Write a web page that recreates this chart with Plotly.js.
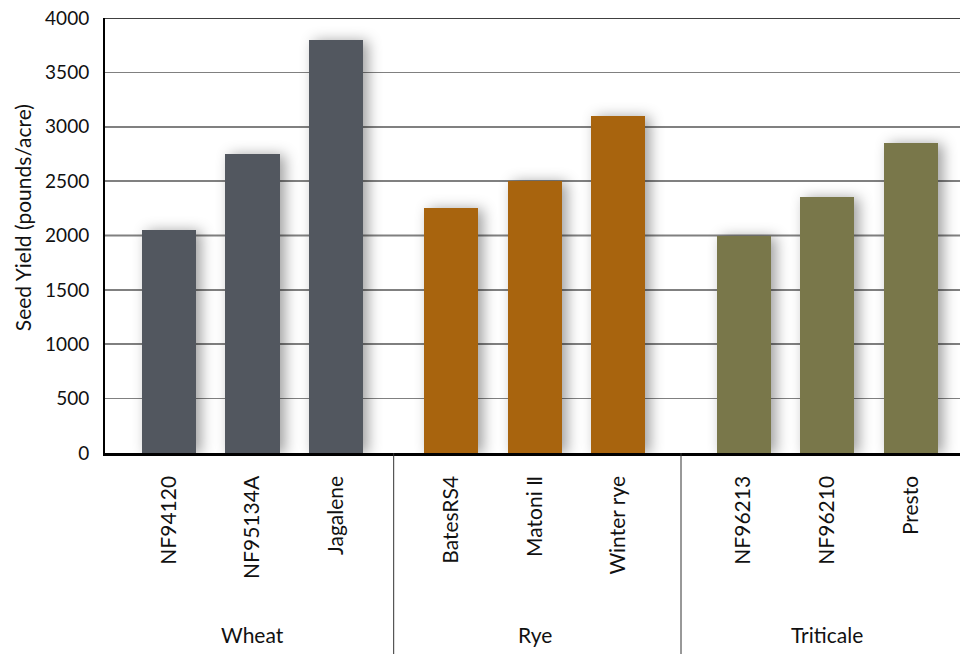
<!DOCTYPE html>
<html>
<head>
<meta charset="utf-8">
<script src="https://cdn.plot.ly/plotly-3.0.1.min.js"></script>
<style>
  html, body { margin: 0; padding: 0; background: #fff; }
  #chart { width: 960px; height: 654px; }
  #chart .bars .point path { filter: drop-shadow(5px 1px 7px rgba(0,0,0,0.38)); }
</style>
</head>
<body>
<div id="chart"></div>
<script>
// ---- data ----
const groups = ["Wheat", "Rye", "Triticale"];
const wheatVarieties = ["NF94120", "NF95134A", "Jagalene"];
const wheatYield = [2050, 2750, 3800];
const ryeVarieties = ["BatesRS4", "Matoni \u2161", "Winter rye"];
const ryeYield = [2250, 2500, 3100];
const triticaleVarieties = ["NF96213", "NF96210", "Presto"];
const triticaleYield = [2000, 2350, 2850];
const yTicks = [0, 500, 1000, 1500, 2000, 2500, 3000, 3500, 4000];
const darkGridValues = [1000, 2000, 3000, 4000];
const yTitle = "Seed Yield (pounds/acre)";

// ---- layout helpers ----
const GROUP_OFFSETS = [0, 3.38, 6.88];
const FONT = "Lato, 'Open Sans', sans-serif";
const colors = ["#52575f", "#a8640e", "#79774a"];
const seriesNames = [wheatVarieties, ryeVarieties, triticaleVarieties];
const seriesVals = [wheatYield, ryeYield, triticaleYield];

const traces = [];
const tickvals = [], ticktext = [];
seriesNames.forEach((names, g) => {
  const xs = names.map((_, i) => GROUP_OFFSETS[g] + i);
  xs.forEach((x, i) => { tickvals.push(x); ticktext.push(names[i]); });
  traces.push({
    type: "bar",
    name: groups[g],
    x: xs,
    y: seriesVals[g],
    width: 0.647,
    marker: { color: colors[g], line: { width: 0 } },
    cliponaxis: false,
    hoverinfo: "x+y"
  });
});

const shapes = [];
darkGridValues.forEach(v => shapes.push({
  type: "line", xref: "paper", yref: "y", x0: 0, x1: 1, y0: v, y1: v,
  line: { color: "#000", width: 1.5 }, layer: "below"
}));
for (let g = 0; g < groups.length - 1; g++) {
  const sep = ((GROUP_OFFSETS[g] + seriesNames[g].length - 1) + GROUP_OFFSETS[g + 1]) / 2;
  shapes.push({
    type: "line", xref: "x", yref: "paper", x0: sep, x1: sep, y0: 0, y1: -0.47,
    line: { color: "#333", width: 1 }
  });
}

const annotations = groups.map((name, g) => ({
  text: name, xref: "x", yref: "paper",
  x: GROUP_OFFSETS[g] + (seriesNames[g].length - 1) / 2, y: -0.418,
  xanchor: "center", yanchor: "middle", showarrow: false,
  font: { family: FONT, size: 21, color: "#111" }
}));
annotations.push({
  text: yTitle, xref: "paper", yref: "paper",
  x: -0.097, y: 0.54, textangle: -90,
  xanchor: "center", yanchor: "middle", showarrow: false,
  font: { family: FONT, size: 21, color: "#111" }
});

const layout = {
  width: 960, height: 654,
  margin: { l: 105, r: 0, t: 18, b: 201 },
  paper_bgcolor: "#fff", plot_bgcolor: "#fff",
  showlegend: false,
  font: { family: FONT, color: "#111" },
  xaxis: {
    range: [-0.766, 9.47],
    tickmode: "array", tickvals: tickvals, ticktext: ticktext,
    tickangle: -90,
    ticks: "outside", ticklen: 12, tickcolor: "rgba(0,0,0,0)",
    tickfont: { family: FONT, size: 21, color: "#111" },
    showgrid: false, zeroline: false,
    showline: true, linecolor: "#000", linewidth: 2.5
  },
  yaxis: {
    range: [0, 4000],
    tickmode: "array", tickvals: yTicks,
    ticks: "outside", ticklen: 10, tickcolor: "rgba(0,0,0,0)",
    tickfont: { family: FONT, size: 19, color: "#111" },
    showgrid: true, gridcolor: "#808080", gridwidth: 1.5,
    zeroline: false,
    showline: true, linecolor: "#000", linewidth: 2
  },
  shapes: shapes,
  annotations: annotations,
  bargap: 0
};

Plotly.newPlot("chart", traces, layout, { displayModeBar: false, staticPlot: true });
</script>
</body>
</html>
